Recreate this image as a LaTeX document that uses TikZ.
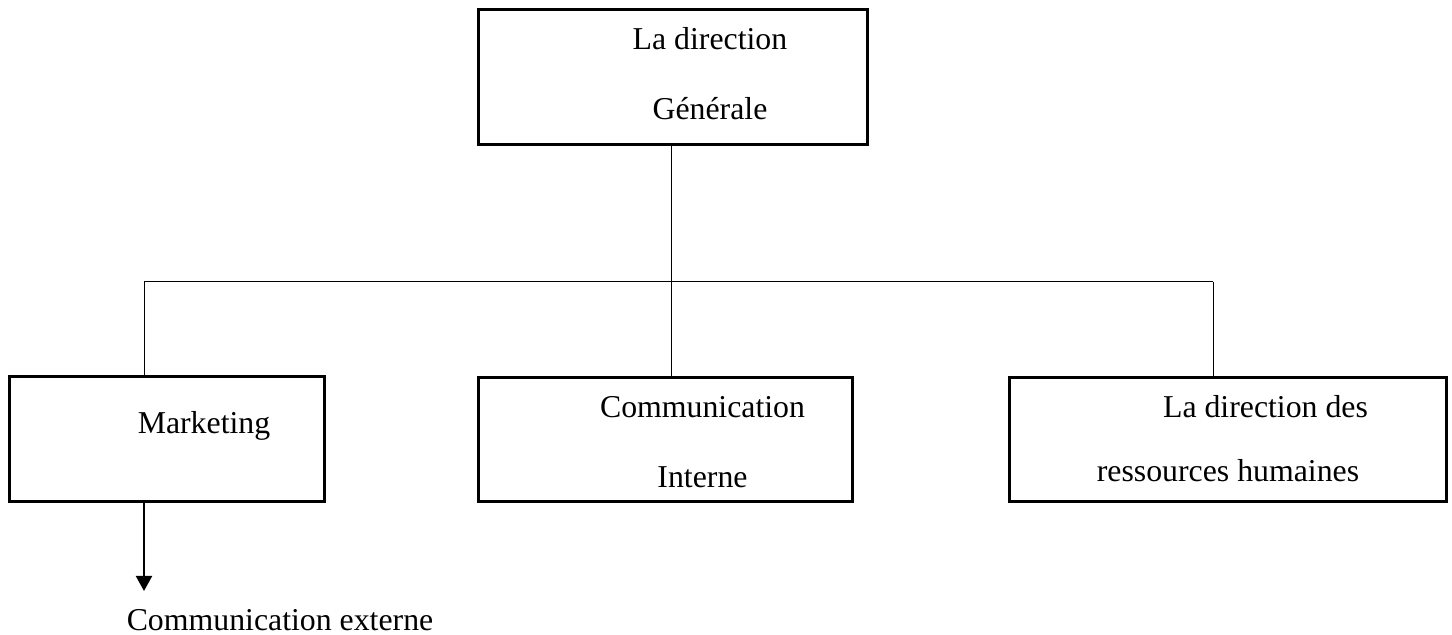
\documentclass[tikz,border=0pt]{standalone}
\usepackage{fontspec}
\setmainfont{Liberation Serif}
\usetikzlibrary{arrows.meta,positioning}

\begin{document}
\begin{tikzpicture}[
  x=0.5pt, y=-0.5pt,
  >={Triangle[width=8pt,length=7.5pt]},
  orgbox/.style={draw, line width=1.5pt, inner sep=0pt},
  lbl/.style={font=\fontsize{15.9}{19}\selectfont, anchor=base, inner sep=0pt},
  link/.style={line width=0.5pt},
]
\useasboundingbox (0,0) rectangle (1452,635);

\node[orgbox, minimum width=194.5pt, minimum height=67.5pt] (dg) at (672.5, 77.5) {};
\node[lbl] (dgA) at (710, 50) {La direction};
\node[lbl] (dgB) at (710, 120) {Générale};

\node[orgbox, minimum width=157.5pt, minimum height=62.5pt] (mkt) at (166.5, 439.5) {};
\node[lbl] (mktA) at (204, 434) {Marketing};

\node[orgbox, minimum width=187pt, minimum height=62pt] (com) at (665, 440) {};
\node[lbl] (comA) at (702.5, 418) {Communication};
\node[lbl] (comB) at (702.5, 488) {Interne};

\node[orgbox, minimum width=218.5pt, minimum height=62pt] (rh) at (1227.5, 440) {};
\node[lbl] (rhA) at (1265.5, 418) {La direction des};
\node[lbl] (rhB) at (1228, 482) {ressources humaines};

\node[lbl, text depth=0pt] (ext) at (280, 631) {Communication externe};

% liaisons
\coordinate (hub) at (671, 282);
\coordinate (hl) at (144, 282);
\coordinate (hr) at (1213, 282);
\draw[link] (dg.south -| hub) -- (hub);
\draw[link] (hl) -- (hr);
\draw[link] (hl) -- (hl |- mkt.north);
\draw[link] (hub) -- (hub |- com.north);
\draw[link] (hr) -- (hr |- rh.north);

\coordinate (tip) at (144, 591);
\draw[->, line width=1pt] (mkt.south -| tip) -- (tip);

\end{tikzpicture}
\end{document}
